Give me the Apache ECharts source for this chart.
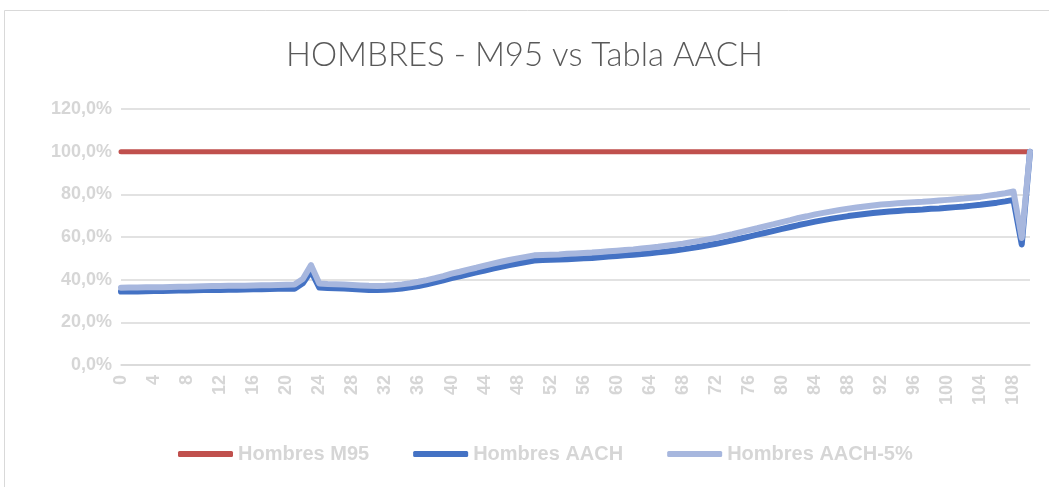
<!DOCTYPE html>
<html>
<head>
<meta charset="utf-8">
<script src="https://cdn.jsdelivr.net/npm/echarts@6/dist/echarts.min.js"></script>
<style>
  html, body { margin: 0; padding: 0; background: #fff; }
  #panel { width: 1049px; height: 487px; }
</style>
</head>
<body>
<div id="panel"></div>
<script>
var edades = [];
for (var i = 0; i <= 110; i++) edades.push(String(i));

var hombresM95 = [];
for (var j = 0; j <= 110; j++) hombresM95.push(100);

var hombresAACH = [
  34.4, 34.5, 34.5, 34.6, 34.7, 34.7, 34.8, 34.9, 34.9, 35.0,
  35.1, 35.1, 35.2, 35.3, 35.3, 35.4, 35.5, 35.5, 35.6, 35.7,
  35.7, 35.8, 38.3, 44.0, 36.3, 36.1, 36.0, 35.8, 35.6, 35.4,
  35.2, 35.2, 35.3, 35.5, 35.9, 36.4, 37.0, 37.8, 38.7, 39.7,
  40.7, 41.6, 42.5, 43.4, 44.3, 45.2, 46.0, 46.8, 47.6, 48.3,
  49.0, 49.2, 49.3, 49.4, 49.6, 49.8, 50.0, 50.2, 50.5, 50.8,
  51.1, 51.4, 51.7, 52.0, 52.4, 52.8, 53.2, 53.7, 54.2, 54.8,
  55.4, 56.1, 56.8, 57.6, 58.4, 59.3, 60.2, 61.1, 62.0, 62.9,
  63.8, 64.7, 65.6, 66.4, 67.2, 67.9, 68.6, 69.2, 69.8, 70.3,
  70.8, 71.2, 71.6, 71.9, 72.2, 72.5, 72.7, 72.9, 73.2, 73.4,
  73.7, 74.0, 74.3, 74.7, 75.1, 75.6, 76.1, 76.7, 77.4, 56.5,
  100
];

var hombresAACH5 = [
  36.2, 36.3, 36.3, 36.4, 36.5, 36.5, 36.6, 36.7, 36.7, 36.8,
  36.9, 37.0, 37.0, 37.1, 37.2, 37.2, 37.3, 37.4, 37.4, 37.5,
  37.6, 37.7, 40.3, 46.8, 38.2, 38.0, 37.9, 37.7, 37.5, 37.3,
  37.1, 37.0, 37.1, 37.4, 37.8, 38.3, 39.0, 39.8, 40.7, 41.7,
  42.8, 43.7, 44.7, 45.6, 46.6, 47.5, 48.4, 49.2, 50.0, 50.7,
  51.4, 51.6, 51.7, 51.8, 52.1, 52.3, 52.5, 52.7, 53.0, 53.3,
  53.6, 53.9, 54.2, 54.6, 55.0, 55.4, 55.9, 56.4, 56.9, 57.6,
  58.2, 58.9, 59.6, 60.5, 61.3, 62.3, 63.2, 64.1, 65.1, 66.0,
  67.0, 67.9, 68.9, 69.7, 70.6, 71.3, 72.0, 72.7, 73.3, 73.8,
  74.3, 74.8, 75.2, 75.5, 75.8, 76.1, 76.3, 76.5, 76.8, 77.1,
  77.4, 77.7, 78.0, 78.4, 78.8, 79.4, 79.9, 80.5, 81.3, 59.5,
  100
];

var labelFont = '"Liberation Sans", sans-serif';
var gris = '#d6d6d6';

options = {
    backgroundColor: '#ffffff',
    animation: false,
    title: {
        text: 'HOMBRES - M95 vs Tabla AACH',
        left: 'center',
        top: 34,
        textStyle: {
            fontFamily: 'Lato, "Open Sans", sans-serif',
            fontWeight: 300,
            fontSize: 33,
            color: '#595959'
        }
    },
    graphic: [{
        type: 'rect',
        shape: { x: 4.5, y: 10.5, width: 1060, height: 500 },
        style: { fill: 'none', stroke: '#d9d9d9', lineWidth: 1 },
        silent: true
    }],
    legend: {
        bottom: 18,
        left: 173,
        itemWidth: 55,
        itemHeight: 6,
        itemGap: 44,
        icon: 'roundRect',
        textStyle: {
            fontFamily: labelFont,
            fontWeight: 'bold',
            fontSize: 20,
            color: gris
        }
    },
    grid: { left: 121, right: 19, top: 109, bottom: 122 },
    xAxis: {
        type: 'category',
        data: edades,
        boundaryGap: false,
        axisLine: { lineStyle: { color: '#d9d9d9', width: 1.5 } },
        axisTick: { show: false },
        axisLabel: {
            interval: 3,
            rotate: 90,
            margin: 10,
            fontFamily: labelFont,
            fontWeight: 'bold',
            fontSize: 18,
            color: gris
        },
        splitLine: { show: false }
    },
    yAxis: {
        type: 'value',
        min: 0,
        max: 120,
        interval: 20,
        axisLine: { show: false },
        axisTick: { show: false },
        axisLabel: {
            margin: 9,
            fontFamily: labelFont,
            fontWeight: 'bold',
            fontSize: 18,
            color: gris,
            formatter: function (v) { return v.toFixed(1).replace('.', ',') + '%'; }
        },
        splitLine: { lineStyle: { color: '#d9d9d9', width: 1.5 } }
    },
    series: [{
        name: 'Hombres M95',
        type: 'line',
        data: hombresM95,
        symbol: 'none',
        itemStyle: { color: '#C0504D' },
        lineStyle: { color: '#C0504D', width: 5, cap: 'round' }
    }, {
        name: 'Hombres AACH',
        type: 'line',
        data: hombresAACH,
        symbol: 'none',
        itemStyle: { color: '#4472C4' },
        lineStyle: { color: '#4472C4', width: 6, cap: 'round', join: 'round' }
    }, {
        name: 'Hombres AACH-5%',
        type: 'line',
        data: hombresAACH5,
        symbol: 'none',
        itemStyle: { color: '#A7B7DE' },
        lineStyle: { color: '#A7B7DE', width: 6, cap: 'round', join: 'round' }
    }]
};

var myChart = echarts.init(document.getElementById('panel'));
myChart.setOption(options);
</script>
</body>
</html>
